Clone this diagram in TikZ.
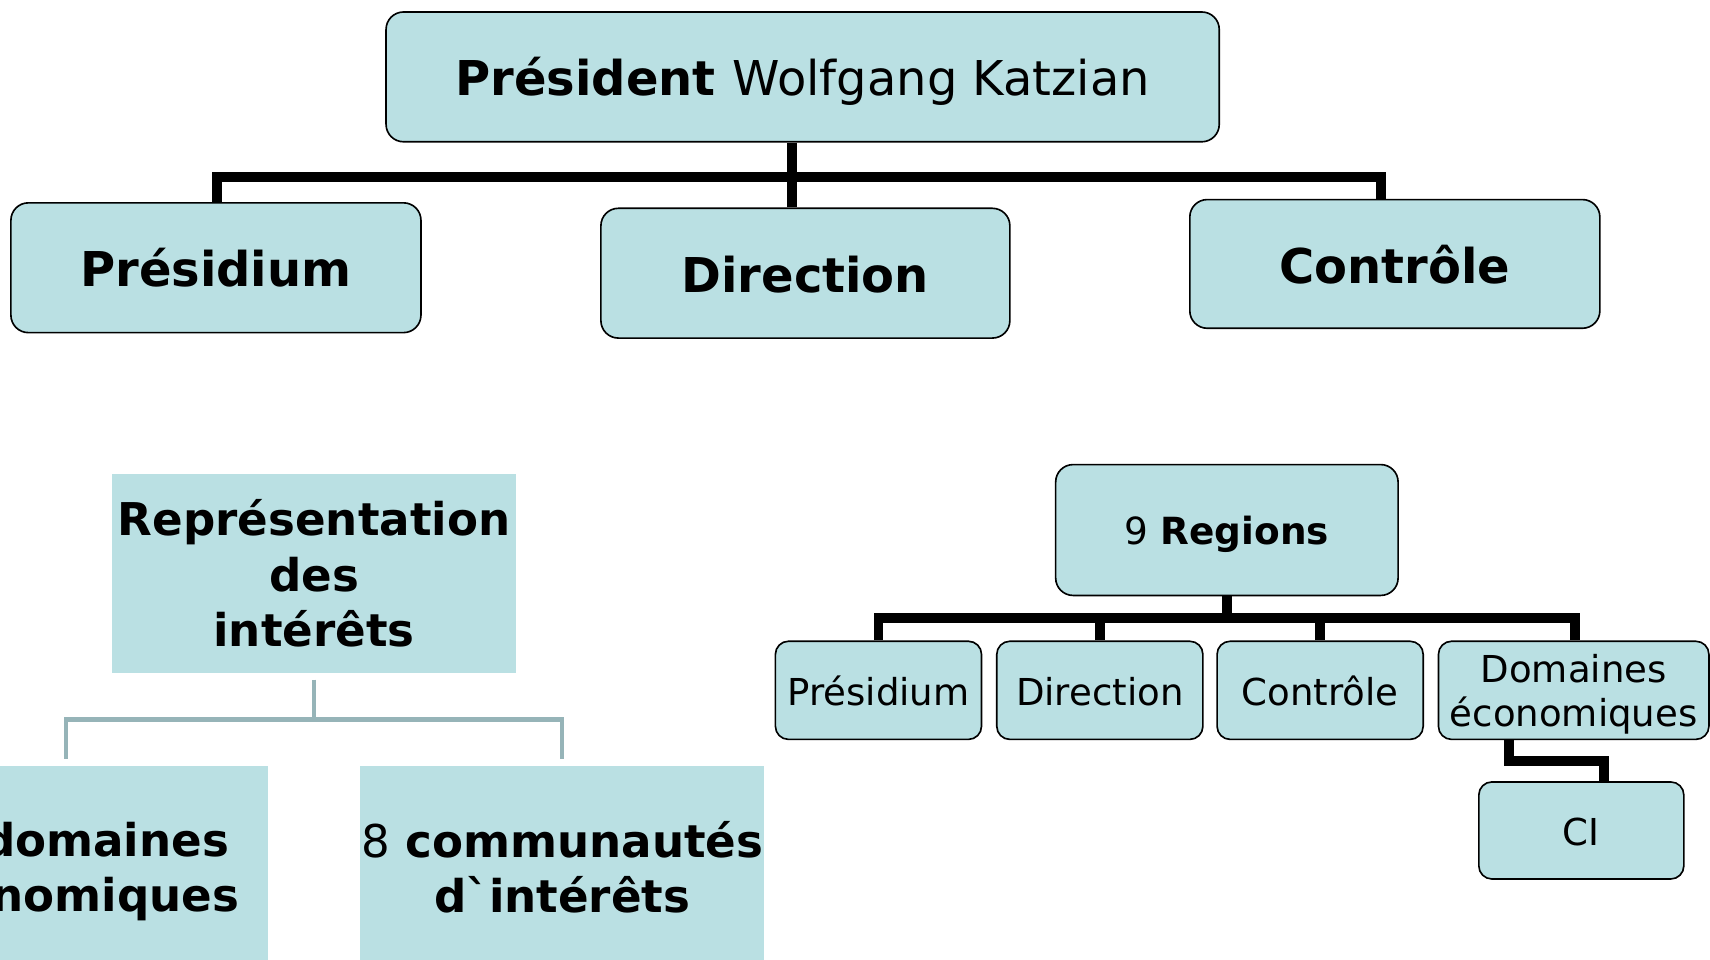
\documentclass[tikz,border=0pt]{standalone}
\usepackage{fontspec}
\newfontfamily\dv{DejaVu Sans}
\usetikzlibrary{calc}
\definecolor{boxblue}{RGB}{186,224,227}
\definecolor{linegray}{RGB}{150,180,184}
\newcommand{\nodesc}[1]{\raisebox{0pt}[\height][0pt]{#1}}
\begin{document}
\begin{tikzpicture}[x=1pt,y=-1pt,
  rb/.style={draw=black,line width=1.5pt,fill=boxblue,rounded corners=16pt,inner sep=0pt,align=center},
  sb/.style={rb,rounded corners=12pt,font=\dv\fontsize{34}{41}\selectfont},
  sline/.style={text height=27pt,text depth=0pt},
  bigb/.style={rb,font=\dv\fontsize{44}{52}\selectfont\bfseries,text height=35pt,text depth=0pt},
  fb/.style={fill=boxblue,inner sep=0pt,align=center,font=\dv\fontsize{41.4}{50}\selectfont\bfseries},
  bar/.style={draw=black,line width=9pt,line join=miter},
  gbar/.style={draw=linegray,line width=4pt,line join=miter}]
\useasboundingbox (0,0) rectangle (1568,880);
\clip (0,0) rectangle (1568,880);
% top tree
\node[bigb,minimum width=764pt,minimum height=119pt] (pres) at (736,70.5) {Président {\mdseries Wolfgang Katzian}};
\node[bigb,minimum width=376pt,minimum height=119pt] (presid) at (198,245.5) {Présidium};
\node[bigb,minimum width=375pt,minimum height=119pt] (dir) at (738.5,250.5) {Direction};
\node[bigb,minimum width=376pt,minimum height=118pt] (ctrl) at (1279,242) {Contrôle};
\draw[bar] (pres.south -| 726,0) -- (726,162);
\draw[bar] (presid.north -| 199,0) -- (199,162) -- (1266,162) -- (ctrl.north -| 1266,0);
\draw[bar] (dir.north -| 726,0) -- (726,162);
% bottom left
\node[fb,minimum width=370pt,minimum height=182pt,font=\dv\fontsize{41.4}{51}\selectfont\bfseries] (rep) at (288,526) {Représentation\\des\\intérêts};
\node[fb,minimum width=371pt,minimum height=186pt,text width=299pt,align=right] (dom) at (60.5,795) {domaines\\\nodesc{économiques}};
\node[fb,minimum width=371pt,minimum height=186pt] (comm) at (515.5,795) {{\mdseries 8} communautés\\d`intérêts};
\draw[gbar] ($(rep.south)+(0,6)$) -- ($(rep.south)+(0,43)$);
\draw[gbar] ($(dom.north)+(0,-6)$) -- ++(0,-36) -| ($(comm.north)+(0,-6)$);
% right tree
\node[rb,sline,minimum width=314pt,minimum height=120pt,font=\dv\fontsize{34.3}{41}\selectfont] (reg) at (1125,486) {9 \textbf{Regions}};
\node[sb,sline,minimum width=189pt,minimum height=90pt] (rp) at (805.5,633) {Présidium};
\node[sb,sline,minimum width=189pt,minimum height=90pt] (rdir) at (1008.5,633) {Direction};
\node[sb,sline,minimum width=189pt,minimum height=90pt] (rc) at (1210.5,633) {Contrôle};
\node[sb,minimum width=248pt,minimum height=90pt] (rd) at (1443,633) {Domaines\\\nodesc{économiques}};
\node[sb,sline,minimum width=188pt,minimum height=89pt] (ci) at (1450,761.5) {CI};
\draw[bar] (reg.south) -- (1125,567);
\draw[bar] (rp.north) -- (805.5,567) -- (1444,567) -- (rd.north -| 1444,0);
\draw[bar] (rdir.north) -- (1008.5,567);
\draw[bar] (rc.north) -- (1210.5,567);
\draw[bar] (rd.south -| 1384,0) -- (1384,698) -- (1471,698) -- (ci.north -| 1471,0);
\end{tikzpicture}
\end{document}
